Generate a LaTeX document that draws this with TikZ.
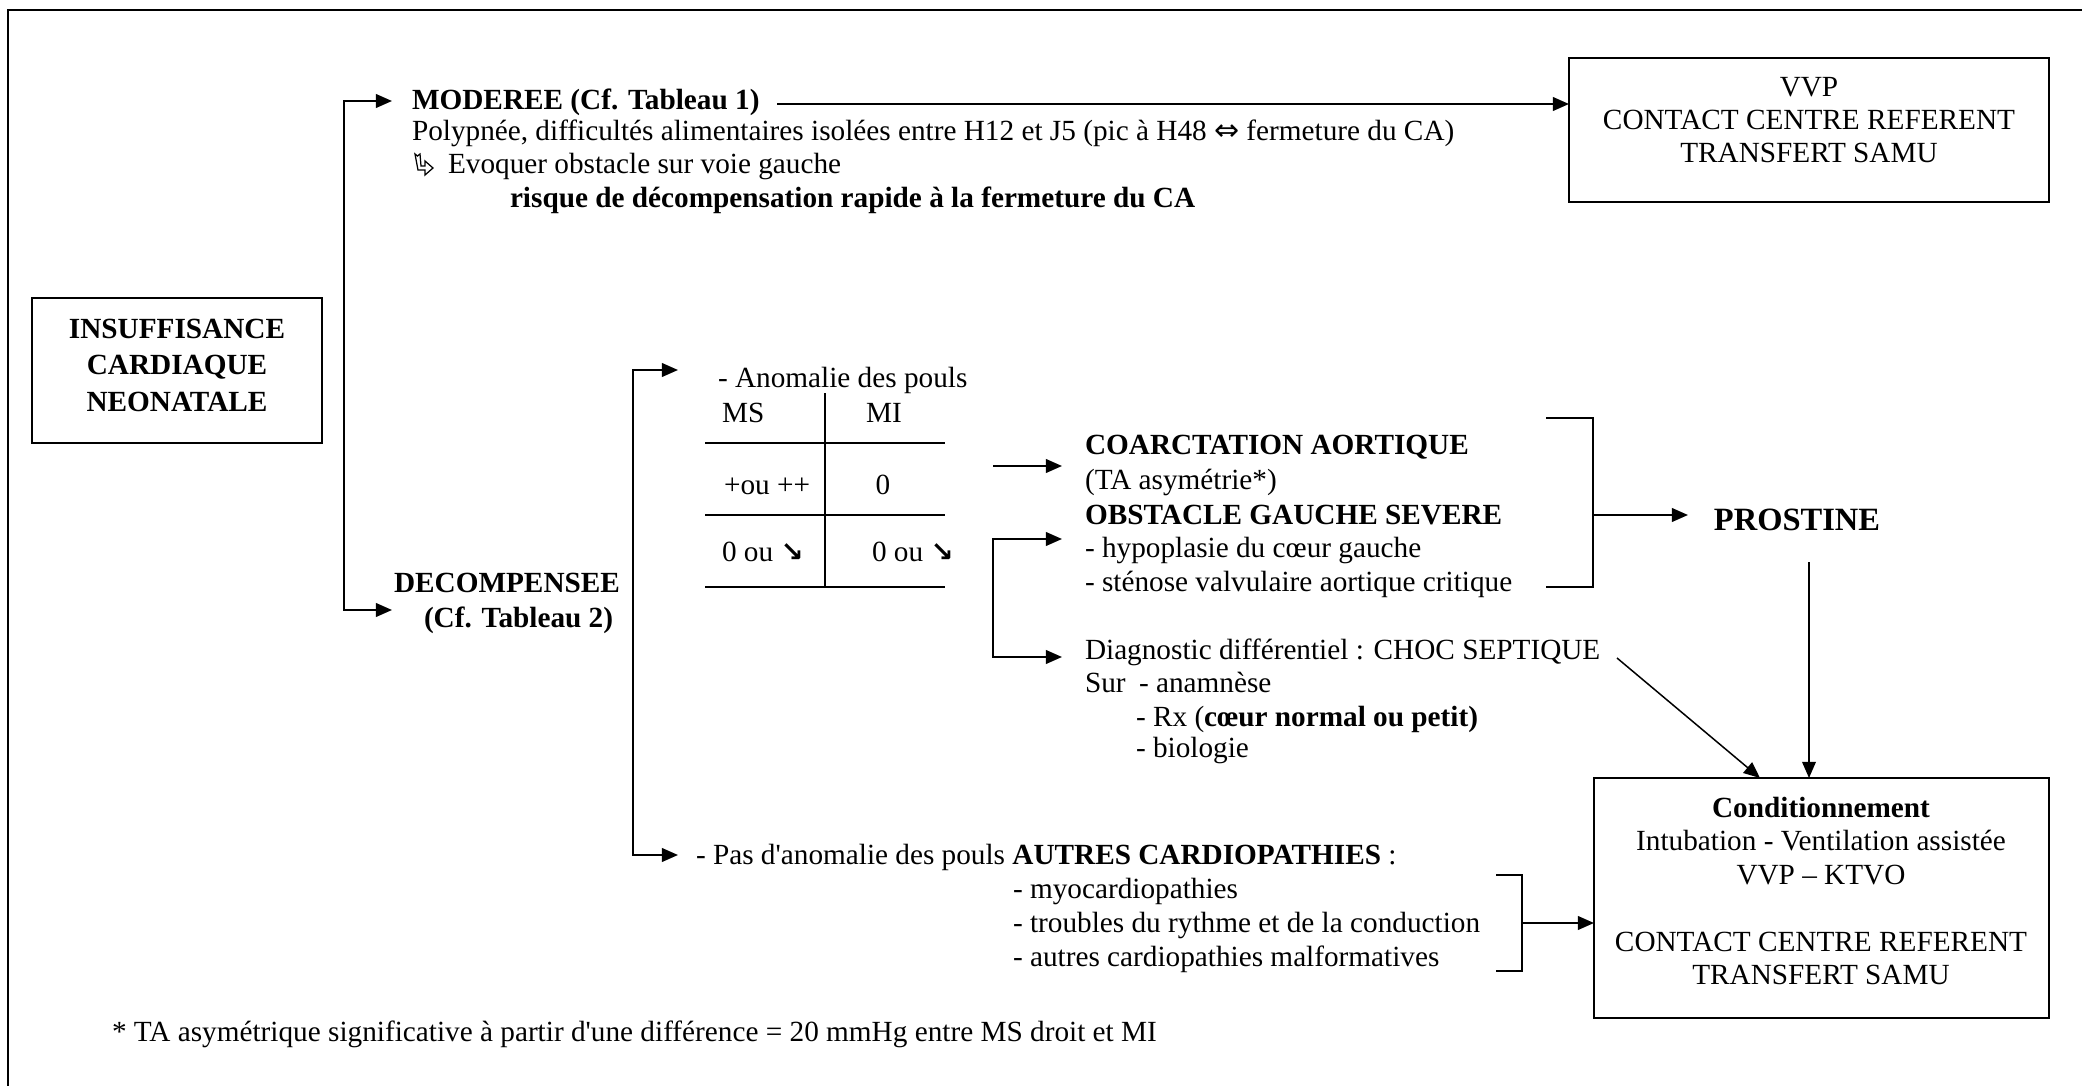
\documentclass[tikz,border=0pt]{standalone}
\usepackage{fontspec}
\setmainfont{Liberation Serif}
\newfontfamily\djv{DejaVu Sans}
\usetikzlibrary{arrows.meta,fit}
\newcommand{\sedown}{{\djv\bfseries\fontsize{11}{12}\selectfont ↘}}
\newcommand{\equivarrow}{{\djv\fontsize{12}{12}\selectfont ⇔}}
\begin{document}
\begin{tikzpicture}[x=0.4pt,y=-0.4pt,
  every node/.style={inner sep=0pt, outer sep=0pt, font=\fontsize{11.7}{13.6}\selectfont},
  txt/.style={anchor=base west},
  bold/.style={font=\fontsize{11.7}{13.6}\selectfont\bfseries},
  box/.style={draw, line width=1.1pt, inner sep=0pt},
  conn/.style={line width=0.85pt},
  arr/.style={conn, -{Triangle[length=6.5pt,width=5.5pt]}},
  darr/.style={conn, {Triangle[length=6.5pt,width=5.5pt]}-{Triangle[length=6.5pt,width=5.5pt]}},
  fine arr/.style={line width=0.6pt, -{Triangle[length=6.5pt,width=5.5pt]}}
]
\useasboundingbox (0,0) rectangle (2082,1086);
\fill[white] (0,0) rectangle (2082,1086);

% page frame (left and top edges)
\draw[line width=1pt] (8,1086) -- (8,10) -- (2082,10);

% ---------- main box ----------
\node[box, fit={(32,298) (322,443)}] (ins) {};
\node[align=center, font=\fontsize{11.7}{14.6}\selectfont\bfseries] (instxt) at (177,365) {INSUFFISANCE\\CARDIAQUE\\NEONATALE};

% ---------- first split ----------
\coordinate (t1a) at (392,101);
\coordinate (j1a) at (344,101);
\coordinate (j1b) at (344,610);
\coordinate (t1b) at (392,610);
\draw[darr] (t1a) -- (j1a) -- (j1b) -- (t1b);

% moderate branch
\node[txt,bold] (mod) at (412,109) {MODEREE (Cf. Tableau 1)};
\node[txt] (poly) at (412,140) {Polypnée, difficultés alimentaires isolées entre H12 et J5 (pic à H48 \equivarrow{} fermeture du CA)};
% hollow bent arrow bullet
\draw[line width=0.5pt, shift={(415,154)}] (0,0) -- (2.5,2) -- (5,0) -- (6,12) -- (10,12) -- (10,7) -- (18,14) -- (10,21) -- (10,16) -- (3,16) -- cycle;
\node[txt] (evoq) at (448,173) {Evoquer obstacle sur voie gauche};
\node[txt,bold] (risk) at (510,207) {risque de décompensation rapide à la fermeture du CA};

\node[box, fit={(1569,58) (2049,202)}] (vvp) {};
\node[align=center, font=\fontsize{11.7}{13.2}\selectfont] (vvptxt) at (1809,120) {VVP\\CONTACT CENTRE REFERENT\\TRANSFERT SAMU};
\coordinate (modline) at (777,104);
\draw[arr] (modline) -- (modline -| vvp.west);

% decompensated branch
\node[txt,bold] (dec) at (394,592) {DECOMPENSEE};
\node[txt,bold] (dec2) at (424,627) {(Cf. Tableau 2)};

\coordinate (t2a) at (678,370);
\coordinate (j2a) at (633,370);
\coordinate (j2b) at (633,855);
\coordinate (t2b) at (678,855);
\draw[darr] (t2a) -- (j2a) -- (j2b) -- (t2b);

% pulses table
\node[txt] (anom) at (718,387) {- Anomalie des pouls};
\node[txt] (ms) at (722,422) {MS};
\node[txt] (mi) at (866,422) {MI};
\node[txt] (r1a) at (724,494) {+ou ++};
\node[anchor=base] (r1b) at (883,494) {0};
\node[txt] (r2a) at (722,561) {0 ou \sedown};
\node[txt] (r2b) at (872,561) {0 ou \sedown};
\coordinate (tv1) at (825,393);
\coordinate (tv2) at (825,588);
\draw[conn] (tv1) -- (tv2);
\foreach \yy/\nm in {443/h1, 515/h2, 587/h3} {
  \coordinate (\nm l) at (705,\yy);
  \coordinate (\nm r) at (945,\yy);
  \draw[conn] (\nm l) -- (\nm r);
}

% coarctation / left obstacle
\coordinate (c1) at (993,466);
\coordinate (c2) at (1062,466);
\draw[arr] (c1) -- (c2);
\node[txt,bold] (coa) at (1085,454) {COARCTATION AORTIQUE};
\node[txt] (taa) at (1085,489) {(TA asymétrie*)};
\node[txt,bold] (obs) at (1085,524) {OBSTACLE GAUCHE SEVERE};
\node[txt] (hyp) at (1085,557) {- hypoplasie du cœur gauche};
\node[txt] (sten) at (1085,591) {- sténose valvulaire aortique critique};

\coordinate (t3a) at (1062,539);
\coordinate (j3a) at (993,539);
\coordinate (j3b) at (993,657);
\coordinate (t3b) at (1062,657);
\draw[darr] (t3a) -- (j3a) -- (j3b) -- (t3b);

\node[txt] (diag) at (1085,659) {Diagnostic différentiel : CHOC SEPTIQUE};
\node[txt] (sur) at (1085,692) {Sur};
\node[txt] (anam) at (1139,692) {- anamnèse};
\node[txt] (rx) at (1136,726) {- Rx (\textbf{cœur normal ou petit)}};
\node[txt] (bio) at (1136,757) {- biologie};

% bracket to prostaglandin
\coordinate (b1a) at (1546,418);
\coordinate (b1b) at (1593,418);
\coordinate (b1c) at (1593,587);
\coordinate (b1d) at (1546,587);
\draw[conn] (b1a) -- (b1b) -- (b1c) -- (b1d);
\coordinate (b1m) at (1593,515);
\node[anchor=center, font=\fontsize{13}{15}\selectfont\bfseries] (pro) at (1797,520) {PROSTINE};
\coordinate (b1t) at (1688,515);
\draw[arr] (b1m) -- (b1t);

% management box
\node[box, fit={(1594,778) (2049,1018)}] (cond) {};
\node[align=center, font=\fontsize{11.7}{13.4}\selectfont] (condtxt) at (1821,891) {\textbf{Conditionnement}\\Intubation - Ventilation assistée\\VVP – KTVO\\[13.4pt]CONTACT CENTRE REFERENT\\TRANSFERT SAMU};

\coordinate (prob) at (1809,562);
\draw[fine arr] (prob) -- (prob |- cond.north);
\coordinate (sep) at (1617,658);
\coordinate (sepend) at (1760,778);
\draw[fine arr] (sep) -- (sepend);

% other cardiopathies
\node[txt] (pas) at (696,864) {- Pas d\textquotesingle anomalie des pouls \textbf{AUTRES CARDIOPATHIES} :};
\node[txt] (myo) at (1013,898) {- myocardiopathies};
\node[txt] (tro) at (1013,932) {- troubles du rythme et de la conduction};
\node[txt] (aut) at (1013,966) {- autres cardiopathies malformatives};
\coordinate (b2a) at (1496,875);
\coordinate (b2b) at (1522,875);
\coordinate (b2c) at (1522,971);
\coordinate (b2d) at (1496,971);
\draw[conn] (b2a) -- (b2b) -- (b2c) -- (b2d);
\coordinate (b2m) at (1522,923);
\draw[arr] (b2m) -- (b2m -| cond.west);

% footnote
\node[txt] (foot) at (112,1041) {* TA asymétrique significative à partir d\textquotesingle une différence = 20 mmHg entre MS droit et MI};
\end{tikzpicture}
\end{document}
